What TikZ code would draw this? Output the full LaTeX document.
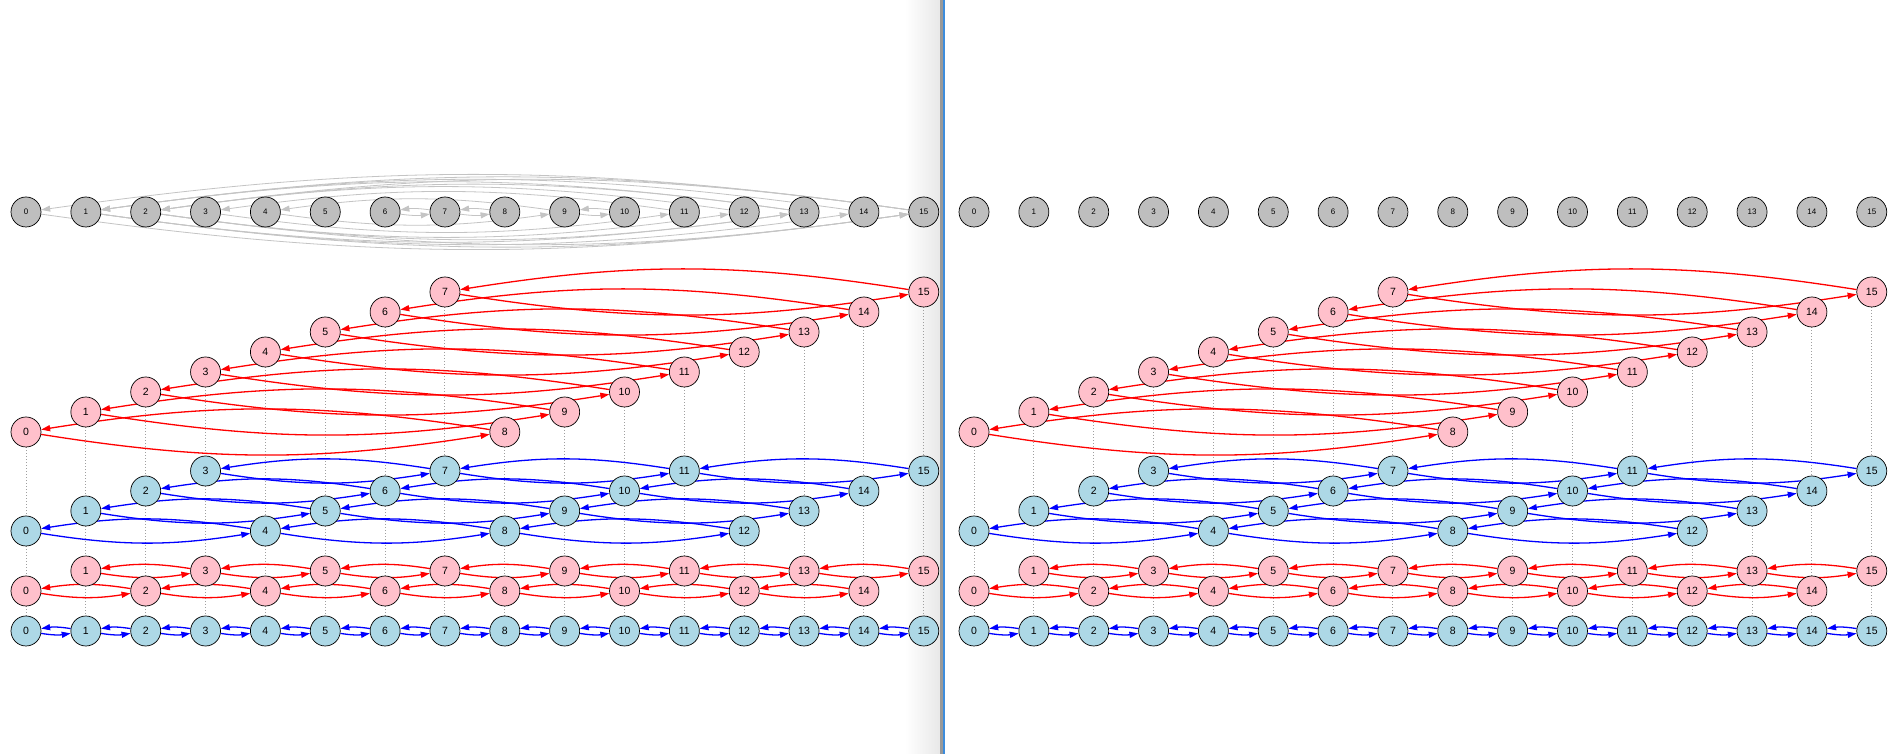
\documentclass[tikz,border=0pt]{standalone}
\usepackage{fontspec}
\setmainfont{Liberation Sans}
\usetikzlibrary{arrows.meta,backgrounds}

\definecolor{grayfill}{HTML}{BEBEBE}
\definecolor{pinkfill}{HTML}{FFC0CB}
\definecolor{bluefill}{HTML}{ADD8E6}
\definecolor{gedgecol}{HTML}{C4C4C4}
\definecolor{sepblue}{HTML}{3C8CDC}

\pgfdeclarelayer{bottom}
\pgfsetlayers{bottom,background,main}

\tikzset{
  vtx/.style={circle, draw=black, line width=0.7pt, minimum size=30pt, inner sep=0pt,
    font=\fontsize{10.5}{12}\selectfont},
  gvtx/.style={vtx, fill=grayfill, font=\fontsize{8}{9}\selectfont},
  rvtx/.style={vtx, fill=pinkfill},
  bvtx/.style={vtx, fill=bluefill},
  redge/.style={draw=red, line width=1.3pt, -{Triangle[length=9pt,width=6pt]}, bend right=9},
  bedge/.style={draw=blue, line width=1.3pt, -{Triangle[length=9pt,width=6pt]}, bend right=9},
  gedge/.style={draw=gedgecol, line width=0.8pt, -{Triangle[length=9pt,width=6pt]}, bend right=8},
  vline/.style={draw=gray!75, line width=1pt, dotted}
}

% one panel: #1 = x of node 0, #2 = name prefix
\newcommand{\drawpanel}[2]{%
  \foreach \i in {0,...,15}{
    \pgfmathsetmacro{\xx}{#1+59.85*\i}
    \node[gvtx] (#2g\i) at (\xx,542) {\i};
    \node[rvtx] (#2p\i) at (\xx,{322+20*mod(\i,8)}) {\i};
    \node[bvtx] (#2q\i) at (\xx,{223+20*mod(\i,4)}) {\i};
    \node[rvtx] (#2s\i) at (\xx,{163+20*mod(\i,2)}) {\i};
    \node[bvtx] (#2t\i) at (\xx,123) {\i};
  }
  \begin{scope}[on background layer]
    \foreach \i in {0,...,15}
      \draw[vline] (#2p\i) -- (#2q\i) -- (#2s\i) -- (#2t\i);
    % stride 8
    \foreach \i in {0,...,7}{
      \pgfmathtruncatemacro{\j}{\i+8}
      \draw[redge] (#2p\i) to (#2p\j);
      \draw[redge] (#2p\j) to (#2p\i);
    }
    % stride 4
    \foreach \i in {0,...,11}{
      \pgfmathtruncatemacro{\j}{\i+4}
      \draw[bedge] (#2q\i) to (#2q\j);
      \draw[bedge] (#2q\j) to (#2q\i);
    }
    % stride 2
    \foreach \i in {0,...,13}{
      \pgfmathtruncatemacro{\j}{\i+2}
      \draw[redge] (#2s\i) to (#2s\j);
      \draw[redge] (#2s\j) to (#2s\i);
    }
    % stride 1
    \foreach \i in {0,...,14}{
      \pgfmathtruncatemacro{\j}{\i+1}
      \draw[bedge] (#2t\i) to (#2t\j);
      \draw[bedge] (#2t\j) to (#2t\i);
    }
  \end{scope}
}

\begin{document}
\begin{tikzpicture}[x=1pt, y=1pt]
  \useasboundingbox (0,0) rectangle (1890,754);
  \begin{pgfonlayer}{bottom}
    \fill[white] (0,0) rectangle (1890,754);
    % splitter between the two views
    \shade[left color=white, right color=black!9] (905,0) rectangle (940,754);
    \fill[black!40] (940,0) rectangle (943,754);
    \fill[sepblue] (943,0) rectangle (944.5,754);
  \end{pgfonlayer}

  % left view
  \drawpanel{26}{L}
  \begin{scope}[on background layer]
    \foreach \a/\b in {0/15,1/15,1/14,1/13,2/15,2/13,2/12,3/11,4/9,6/7,7/8,9/10}{
      \draw[gedge] (Lg\a) to (Lg\b);
      \draw[gedge] (Lg\b) to (Lg\a);
    }
  \end{scope}

  % right view
  \drawpanel{974}{R}
\end{tikzpicture}
\end{document}
